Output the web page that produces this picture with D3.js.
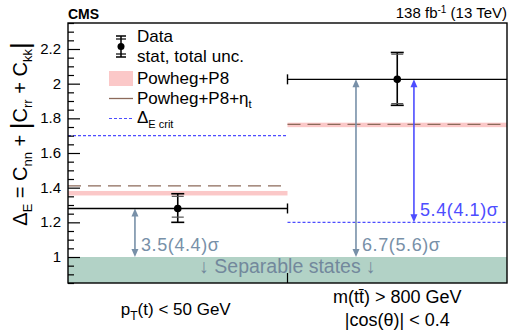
<!DOCTYPE html>
<html>
<head>
<meta charset="utf-8">
<script src="https://cdn.jsdelivr.net/npm/d3@7"></script>
<style>
  body { margin: 0; background: #fff; }
  text { font-family: "Liberation Sans", Arial, sans-serif; }
</style>
</head>
<body>
<script>
// Data
const bins = ["pt", "mtt"];
const dataValues = [1.28, 2.025];
const statUp = [1.35, 2.17];
const statDown = [1.23, 1.885];
const totalUp = [1.365, 2.18];
const totalDown = [1.20, 1.875];
const powhegValues = [1.368, 1.762];
const powhegHalfWidth = [0.013, 0.013];
const powhegEtaValues = [1.41, 1.765];
const critValues = [1.7, 1.2];
const separableMax = 1.0;
const yTicks = [1, 1.2, 1.4, 1.6, 1.8, 2, 2.2];
const arrowLabels = [
  { bin: 0, frac: 0.305, to: "sep", label: "3.5(4.4)σ", color: "#7890a8" },
  { bin: 1, frac: 0.312, to: "sep", label: "6.7(5.6)σ", color: "#7890a8" },
  { bin: 1, frac: 0.576, to: "crit", label: "5.4(4.1)σ", color: "#4d4dff" }
];

const W = 523, H = 334;
const margin = { left: 68, right: 16, top: 23, bottom: 51 };

const svg = d3.select("body")
    .append("svg")
    .attr("width", W)
    .attr("height", H);

const x = d3.scaleBand()
    .domain(bins)
    .range([margin.left, W - margin.right])
    .paddingInner(0)
    .paddingOuter(0);

const y = d3.scaleLinear()
    .domain([0.85, 2.35])
    .range([H - margin.bottom, margin.top]);

const x0 = x.range()[0], x1 = x.range()[1];
const bw = x.bandwidth();

// separable states band
svg.append("rect")
    .attr("x", x0).attr("width", x1 - x0)
    .attr("y", y(separableMax)).attr("height", y(0.85) - y(separableMax))
    .attr("fill", "#b2d2c6");

svg.append("text")
    .attr("x", x0 + bw).attr("y", 273)
    .attr("text-anchor", "middle")
    .attr("font-size", 19.5)
    .attr("fill", "#72889c")
    .text("↓ Separable states ↓");

// Powheg+P8 bands
bins.forEach((b, i) => {
  svg.append("rect")
      .attr("x", x(b)).attr("width", bw)
      .attr("y", y(powhegValues[i] + powhegHalfWidth[i]))
      .attr("height", y(powhegValues[i] - powhegHalfWidth[i]) - y(powhegValues[i] + powhegHalfWidth[i]))
      .attr("fill", "#fbc8c8");
  // Powheg+P8+eta_t dashed
  svg.append("line")
      .attr("x1", x(b)).attr("x2", x(b) + bw)
      .attr("y1", y(powhegEtaValues[i])).attr("y2", y(powhegEtaValues[i]))
      .attr("stroke", "#8c6a5a").attr("stroke-width", 1.3)
      .attr("stroke-dasharray", "13,7");
  // Delta_E crit
  svg.append("line")
      .attr("x1", x(b)).attr("x2", x(b) + bw)
      .attr("y1", y(critValues[i])).attr("y2", y(critValues[i]))
      .attr("stroke", "#4d4dff").attr("stroke-width", 1.2)
      .attr("stroke-dasharray", "3,2");
});

// arrows
function arrow(g, xp, ya, yb, color) {
  const top = Math.min(ya, yb), bot = Math.max(ya, yb);
  g.append("line")
      .attr("x1", xp).attr("x2", xp)
      .attr("y1", top + 4).attr("y2", bot - 4)
      .attr("stroke", color).attr("stroke-width", 1.6);
  g.append("path")
      .attr("d", `M${xp},${top} L${xp - 3.5},${top + 8} L${xp + 3.5},${top + 8} Z`)
      .attr("fill", color);
  g.append("path")
      .attr("d", `M${xp},${bot} L${xp - 3.5},${bot - 8} L${xp + 3.5},${bot - 8} Z`)
      .attr("fill", color);
}
arrowLabels.forEach(a => {
  const b = bins[a.bin];
  const xp = x(b) + a.frac * bw;
  const ya = y(dataValues[a.bin]);
  const yb = a.to === "sep" ? y(separableMax) : y(critValues[a.bin]);
  arrow(svg, xp, ya, yb, a.color);
  svg.append("text")
      .attr("x", xp + 6).attr("y", yb - 6)
      .attr("font-size", 18)
      .attr("textLength", 78)
      .attr("lengthAdjust", "spacing")
      .attr("fill", a.color)
      .text(a.label);
});

// data points
bins.forEach((b, i) => {
  const cx = x(b) + bw / 2;
  const cy = y(dataValues[i]);
  svg.append("line")
      .attr("x1", x(b)).attr("x2", x(b) + bw)
      .attr("y1", cy).attr("y2", cy)
      .attr("stroke", "#000").attr("stroke-width", 1.4);
  // x-range end ticks at bin divider
  const edge = i === 0 ? x(b) + bw : x(b);
  svg.append("line")
      .attr("x1", edge).attr("x2", edge)
      .attr("y1", cy - 5).attr("y2", cy + 5)
      .attr("stroke", "#000").attr("stroke-width", 1.4);
  svg.append("line")
      .attr("x1", cx).attr("x2", cx)
      .attr("y1", y(totalUp[i])).attr("y2", y(totalDown[i]))
      .attr("stroke", "#000").attr("stroke-width", 1.6);
  [statUp[i], statDown[i]].forEach(v => {
    svg.append("line")
        .attr("x1", cx - 6).attr("x2", cx + 6)
        .attr("y1", y(v)).attr("y2", y(v))
        .attr("stroke", "#555").attr("stroke-width", 1.2);
  });
  [totalUp[i], totalDown[i]].forEach(v => {
    svg.append("line")
        .attr("x1", cx - 6.5).attr("x2", cx + 6.5)
        .attr("y1", y(v)).attr("y2", y(v))
        .attr("stroke", "#000").attr("stroke-width", 1.6);
  });
  svg.append("circle")
      .attr("cx", cx).attr("cy", cy).attr("r", 3.8)
      .attr("fill", "#000");
});

// frame
svg.append("rect")
    .attr("x", x0).attr("y", margin.top)
    .attr("width", x1 - x0).attr("height", H - margin.bottom - margin.top)
    .attr("fill", "none").attr("stroke", "#000").attr("stroke-width", 1.4);

// y axis with major/minor ticks
svg.append("g")
    .attr("transform", `translate(${x0},0)`)
    .call(d3.axisRight(y).tickValues(yTicks).tickSize(12).tickFormat(""))
    .call(g => g.select(".domain").remove())
    .call(g => g.selectAll("line").attr("stroke", "#000").attr("stroke-width", 1.2));

const minor = d3.range(0.85, 2.351, 0.05).filter(v => !yTicks.some(t => Math.abs(t - v) < 1e-6));
svg.append("g")
    .attr("transform", `translate(${x0},0)`)
    .call(d3.axisRight(y).tickValues(minor).tickSize(6).tickFormat(""))
    .call(g => g.select(".domain").remove())
    .call(g => g.selectAll("line").attr("stroke", "#000").attr("stroke-width", 1.2));

svg.selectAll(".ylab")
    .data(yTicks)
    .enter()
    .append("text")
    .attr("class", "ylab")
    .attr("x", 61)
    .attr("y", d => y(d) + 5)
    .attr("text-anchor", "end")
    .attr("font-size", 15)
    .text(d => d3.format("")(d));

// bottom divider tick
svg.append("line")
    .attr("x1", x0 + bw).attr("x2", x0 + bw)
    .attr("y1", H - margin.bottom).attr("y2", H - margin.bottom - 10)
    .attr("stroke", "#000").attr("stroke-width", 1.2);

// category labels
const lab1 = svg.append("text")
    .attr("x", x("pt") + bw / 2 - 2).attr("y", 315)
    .attr("text-anchor", "middle").attr("font-size", 17);
lab1.append("tspan").text("p");
lab1.append("tspan").attr("dy", 5).attr("font-size", 12).text("T");
lab1.append("tspan").attr("dy", -5).text("(t) < 50 GeV");

svg.append("text")
    .attr("x", x("mtt") + bw / 2).attr("y", 303)
    .attr("text-anchor", "middle").attr("font-size", 18)
    .text("m(tt\u0304) > 800 GeV");
svg.append("text")
    .attr("x", x("mtt") + bw / 2).attr("y", 326)
    .attr("text-anchor", "middle").attr("font-size", 18)
    .text("|cos(θ)| < 0.4");

// header
svg.append("text")
    .attr("x", x0).attr("y", 19)
    .attr("font-size", 14).attr("font-weight", "bold")
    .text("CMS");
const lumi = svg.append("text")
    .attr("x", x1).attr("y", 18)
    .attr("text-anchor", "end").attr("font-size", 15);
lumi.append("tspan").text("138 fb");
lumi.append("tspan").attr("dy", -5).attr("font-size", 10).text("-1");
lumi.append("tspan").attr("dy", 5).text(" (13 TeV)");

// y title
const yt = svg.append("text")
    .attr("transform", "translate(27,134) rotate(-90)")
    .attr("text-anchor", "middle")
    .attr("font-size", 20);
yt.append("tspan").text("Δ");
yt.append("tspan").attr("dy", 5).attr("font-size", 13).text("E");
yt.append("tspan").attr("dy", -5).text(" = C");
yt.append("tspan").attr("dy", 5).attr("font-size", 13).text("nn");
yt.append("tspan").attr("dy", -5).text(" + ");
yt.append("tspan").attr("font-size", 26).attr("dy", 2).text("|");
yt.append("tspan").attr("dy", -2).text("C");
yt.append("tspan").attr("dy", 5).attr("font-size", 13).text("rr");
yt.append("tspan").attr("dy", -5).text(" + C");
yt.append("tspan").attr("dy", 5).attr("font-size", 13).text("kk");
yt.append("tspan").attr("font-size", 26).attr("dy", -3).text("|");

// legend
const lx = 109, lw = 24, tx = 137, fs = 17;
const lg = svg.append("g");
lg.append("line").attr("x1", 121).attr("x2", 121).attr("y1", 36).attr("y2", 57)
    .attr("stroke", "#000").attr("stroke-width", 1.5);
[36, 57].forEach(v => lg.append("line").attr("x1", 116).attr("x2", 126).attr("y1", v).attr("y2", v)
    .attr("stroke", "#000").attr("stroke-width", 1.5));
[39, 54].forEach(v => lg.append("line").attr("x1", 116).attr("x2", 126).attr("y1", v).attr("y2", v)
    .attr("stroke", "#000").attr("stroke-width", 1.2));
lg.append("circle").attr("cx", 121).attr("cy", 46.5).attr("r", 3.5);
lg.append("text").attr("x", tx).attr("y", 42).attr("font-size", fs).text("Data");
lg.append("text").attr("x", tx).attr("y", 61.5).attr("font-size", fs).attr("textLength", 107)
    .attr("lengthAdjust", "spacing").text("stat, total unc.");
lg.append("rect").attr("x", lx).attr("y", 71).attr("width", lw).attr("height", 15).attr("fill", "#fbc8c8");
lg.append("text").attr("x", tx).attr("y", 83.5).attr("font-size", fs).text("Powheg+P8");
lg.append("line").attr("x1", lx).attr("x2", lx + lw).attr("y1", 98.5).attr("y2", 98.5)
    .attr("stroke", "#8c6a5a").attr("stroke-width", 1.3);
const l4 = lg.append("text").attr("x", tx).attr("y", 103.5).attr("font-size", fs);
l4.append("tspan").text("Powheg+P8+η");
l4.append("tspan").attr("dy", 4).attr("font-size", 11).text("t");
lg.append("line").attr("x1", lx).attr("x2", lx + lw).attr("y1", 118.5).attr("y2", 118.5)
    .attr("stroke", "#4d4dff").attr("stroke-width", 1.2).attr("stroke-dasharray", "3,2");
const l5 = lg.append("text").attr("x", tx).attr("y", 123).attr("font-size", fs);
l5.append("tspan").text("Δ");
l5.append("tspan").attr("dy", 5).attr("font-size", 11).text("E crit");
</script>
</body>
</html>
